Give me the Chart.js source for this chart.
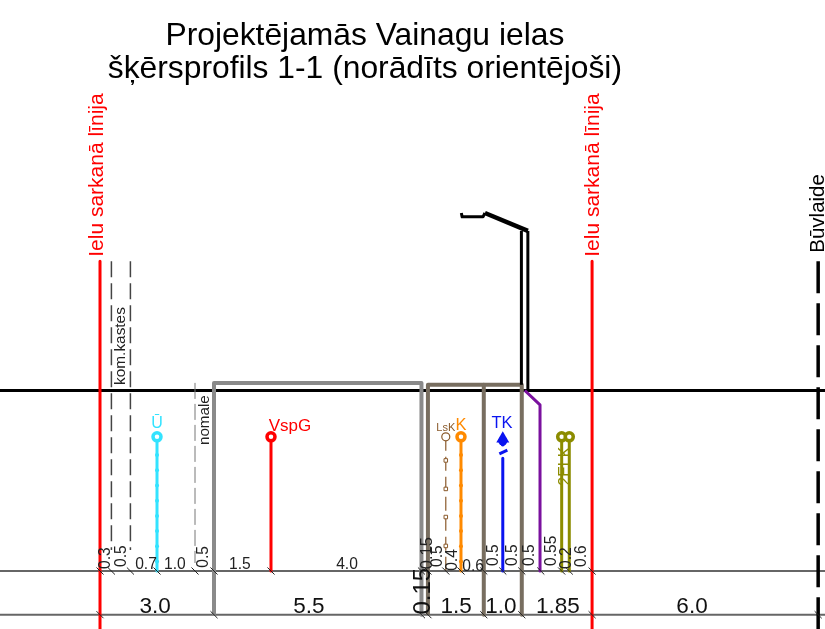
<!DOCTYPE html>
<html><head><meta charset="utf-8">
<style>html,body{margin:0;padding:0;background:#fff}canvas{display:block}</style>
<script src="https://cdn.jsdelivr.net/npm/chart.js@4"></script></head>
<body><canvas id="c" width="825" height="629"></canvas>
<script>
// All coordinates are metres: x from the left red line, y from the ground line.
const titleLines = ["Projektējamās Vainagu ielas", "šķērsprofils 1-1 (norādīts orientējoši)"];
const dimY1 = -4.75, dimY2 = -5.9, ringY = -1.22, groundY = 0;
const xMin = -2.632, xMax = 19.08, yMin = -6.276, yMax = 10.276;

const ticksRow1 = [0, 0.3, 0.8, 1.5, 2.5, 3.0, 4.5, 8.46, 8.63, 9.1, 9.5, 10.1, 10.6, 11.1, 11.6, 12.15, 12.35, 12.95];
const ticksRow2 = [0, 3.0, 8.46, 8.63, 10.1, 11.1, 12.95, 18.9];

const redLineX = [0, 12.95], redTopY = 3.4;
const buildLineX = 18.9, buildTopY = 3.4;
const komX = [0.3, 0.8], komTopY = 3.4, komBottomY = -4.2;
const normX = 2.5, normTopY = 0.2, normBottomY = -4.54;

const kerbGrayX = [3.0, 3.0, 8.46, 8.46], kerbGrayY = [-5.9, 0.2, 0.2, -5.9];
const kerbBrownX = [8.63, 8.63, 11.1, 11.1], kerbBrownY = [-5.9, 0.15, 0.15, -5.9];
const kerbMidX = [10.1, 10.1], kerbMidY = [0.15, -5.9];

const poleAX = [11.09, 11.09], poleAY = [0.15, 4.2];
const poleBX = [11.26, 11.26], poleBY = [0, 4.2];
const armX = [11.26, 10.13], armY = [4.2, 4.67];
const hookX = [10.13, 10.08, 9.53, 9.51], hookY = [4.67, 4.57, 4.57, 4.67];

const purpleX = [11.18, 11.58, 11.58], purpleY = [0, -0.38, -4.75];
const cyanX = 1.5, redUtilX = 4.5, brownX = 9.1, orangeX = 9.5, blueX = 10.6, oliveX = [12.15, 12.35];
const blueTopY = -1.78, blueSlashX = [10.51, 10.72], blueSlashY = [-1.67, -1.57], blueMarkY = -1.27;
const blueStemY = [-1.32, -1.42], blueBulbY = -1.33;
const brownSquaresY = [-1.84, -2.59, -3.33, -4.09];
const beadsY = [-1.7, -2.1, -2.5, -2.9, -3.3, -3.7, -4.1, -4.5];

const RED = "#ff0000", CYAN = "#33e3ff", ORANGE = "#ff8a00", BLUE = "#0a14f0", OLIVE = "#8c8c00",
      BROWN = "#8a5a2b", PURPLE = "#7a119e", GRAY = "#8a8a8a", TAUPE = "#786e60", DIM = "#666666";

// text, x, y, rotation, size, colour
const notes = [
  ["Ielu sarkanā līnija", -0.07, 5.67, -90, 21, RED],
  ["Ielu sarkanā līnija", 12.97, 5.67, -90, 21, RED],
  ["Būvlaide", 18.9, 4.66, -90, 20.5, "#000"],
  ["kom.kastes", 0.55, 1.17, -90, 15.4, "#222"],
  ["nomale", 2.76, -0.78, -90, 15.2, "#222"],
  ["Ū", 1.5, -0.88, 0, 16, CYAN],
  ["VspG", 5.0, -0.95, 0, 17, RED],
  ["LsK", 9.1, -0.98, 0, 11, BROWN],
  ["K", 9.5, -0.92, 0, 16.5, ORANGE],
  ["TK", 10.58, -0.86, 0, 16.5, BLUE],
  ["2ELK", 12.26, -1.99, -90, 16, OLIVE],
  ["0.3", 0.16, -4.41, -90, 15.6, "#222"],
  ["0.5", 0.57, -4.36, -90, 15.6, "#222"],
  ["0.7", 1.21, -4.59, 0, 15.6, "#222"],
  ["1.0", 1.97, -4.59, 0, 15.6, "#222"],
  ["0.5", 2.74, -4.38, -90, 15.6, "#222"],
  ["1.5", 3.68, -4.59, 0, 15.6, "#222"],
  ["4.0", 6.5, -4.59, 0, 15.6, "#222"],
  ["0.15", 8.61, -4.28, -90, 16.5, "#222"],
  ["0.5", 8.89, -4.36, -90, 15.6, "#222"],
  ["0.4", 9.29, -4.46, -90, 15.6, "#222"],
  ["0.6", 9.82, -4.64, 0, 15.6, "#222"],
  ["0.5", 10.37, -4.33, -90, 15.6, "#222"],
  ["0.5", 10.87, -4.33, -90, 15.6, "#222"],
  ["0.5", 11.32, -4.33, -90, 15.6, "#222"],
  ["0.55", 11.89, -4.22, -90, 15.6, "#222"],
  ["0.2", 12.29, -4.41, -90, 15.6, "#222"],
  ["0.6", 12.68, -4.36, -90, 15.6, "#222"],
  ["3.0", 1.45, -5.68, 0, 22.5, "#111"],
  ["5.5", 5.5, -5.68, 0, 22.5, "#111"],
  ["0.15", 8.5, -5.28, -90, 24, "#111"],
  ["1.5", 9.37, -5.68, 0, 22.5, "#111"],
  ["1.0", 10.55, -5.68, 0, 22.5, "#111"],
  ["1.85", 12.05, -5.68, 0, 22.5, "#111"],
  ["6.0", 15.58, -5.68, 0, 22.5, "#111"],
  [titleLines[0], 6.97, 9.33, 0, 31.8, "#000"],
  [titleLines[1], 6.97, 8.46, 0, 31.8, "#000"]
];

function pts(xs, ys) { return xs.map((x, i) => ({x, y: ys[i]})); }
function path(xs, ys, color, width, extra) {
  return Object.assign({data: pts(xs, ys), showLine: true, borderColor: color, borderWidth: width,
    pointRadius: 0, borderJoinStyle: "round", tension: 0, fill: false}, extra || {});
}
function util(x, top, color, width, ringR, ringW) {
  return path([x, x], [top, dimY1], color, width, {pointRadius: [ringR, 0], pointBorderWidth: ringW,
    pointBorderColor: color, pointBackgroundColor: "#fff", pointStyle: "circle"});
}
function beads(x, color) {
  return {data: beadsY.map(y => ({x, y})), showLine: false, pointRadius: 2, pointBorderWidth: 0, pointBackgroundColor: color};
}
function ticks(xs, y) {
  return {data: xs.map(x => ({x, y})), showLine: false, pointStyle: "line", pointRotation: 45, pointRadius: 5,
    pointBorderWidth: 1, pointBorderColor: "#222"};
}

const datasets = [
  path([xMin, xMax], [dimY1, dimY1], DIM, 2),
  path([xMin, xMax], [dimY2, dimY2], DIM, 2),
  path([xMin, xMax], [groundY, groundY], "#000", 3),
  path([komX[0], komX[0]], [komTopY, komBottomY], "#444", 1.5, {borderDash: [16, 6]}),
  path([komX[1], komX[1]], [komTopY, komBottomY], "#444", 1.5, {borderDash: [16, 6]}),
  path([normX, normX], [normTopY, normBottomY], "#777", 1, {borderDash: [16, 5]}),
  path(kerbGrayX, kerbGrayY, GRAY, 4),
  path(kerbBrownX, kerbBrownY, TAUPE, 4),
  path(kerbMidX, kerbMidY, TAUPE, 4),
  path(poleAX, poleAY, "#000", 3),
  path(poleBX, poleBY, "#000", 3),
  path(armX, armY, "#000", 4.5),
  path(hookX, hookY, "#000", 3),
  path(purpleX, purpleY, PURPLE, 3),
  util(cyanX, ringY, CYAN, 3, 4, 3.5), beads(cyanX, CYAN),
  util(redUtilX, ringY, RED, 3, 4, 3.5),
  path([brownX, brownX], [ringY, dimY1], BROWN, 1.2, {borderDash: [14, 6]}),
  {data: [{x: brownX, y: ringY}], showLine: false, pointRadius: 4, pointBorderWidth: 1.2, pointBorderColor: BROWN, pointBackgroundColor: "#fff"},
  {data: brownSquaresY.map(y => ({x: brownX, y})), showLine: false, pointStyle: "rect", pointRadius: 2.5, pointBorderWidth: 1, pointBorderColor: BROWN, pointBackgroundColor: "#fff"},
  util(orangeX, ringY, ORANGE, 3, 4, 3.5), beads(orangeX, ORANGE),
  path([blueX, blueX], [blueTopY, dimY1], BLUE, 3),
  path(blueSlashX, blueSlashY, BLUE, 3),
  path([blueX, blueX], blueStemY, BLUE, 4),
  {data: [{x: blueX, y: blueBulbY}], showLine: false, pointRadius: 4.5, pointBorderWidth: 0, pointBackgroundColor: BLUE},
  {data: [{x: blueX, y: blueMarkY}], showLine: false, pointStyle: "triangle", pointRadius: 7.5, pointBorderWidth: 0, pointBackgroundColor: BLUE},
  util(oliveX[0], ringY, OLIVE, 3, 4, 3.5),
  util(oliveX[1], ringY, OLIVE, 3, 4, 3.5),
  path([redLineX[0], redLineX[0]], [redTopY, yMin], RED, 3),
  path([redLineX[1], redLineX[1]], [redTopY, yMin], RED, 3),
  path([buildLineX, buildLineX], [buildTopY, yMin], "#000", 3.5, {borderDash: [32, 10]}),
  ticks(ticksRow1, dimY1),
  ticks(ticksRow2, dimY2)
];
datasets.forEach((d, i) => { d.order = datasets.length - i; });

const textPlugin = {
  id: "notes",
  afterDatasetsDraw(chart) {
    const {ctx, scales: {x, y}} = chart;
    ctx.save();
    ctx.textAlign = "center";
    ctx.textBaseline = "middle";
    notes.forEach(([t, nx, ny, rot, size, color]) => {
      ctx.save();
      ctx.translate(x.getPixelForValue(nx), y.getPixelForValue(ny));
      ctx.rotate(rot * Math.PI / 180);
      ctx.font = size + 'px "Liberation Sans", Arial, sans-serif';
      ctx.fillStyle = color;
      ctx.fillText(t, 0, 0);
      ctx.restore();
    });
    ctx.restore();
  }
};

new Chart(document.getElementById("c"), {
  type: "scatter",
  data: {datasets},
  plugins: [textPlugin],
  options: {
    responsive: false, animation: false, devicePixelRatio: 1,
    layout: {padding: 0, autoPadding: false},
    plugins: {legend: {display: false}, tooltip: {enabled: false}, title: {display: false}},
    scales: {
      x: {type: "linear", display: false, min: xMin, max: xMax},
      y: {type: "linear", display: false, min: yMin, max: yMax}
    }
  }
});
</script></body></html>
